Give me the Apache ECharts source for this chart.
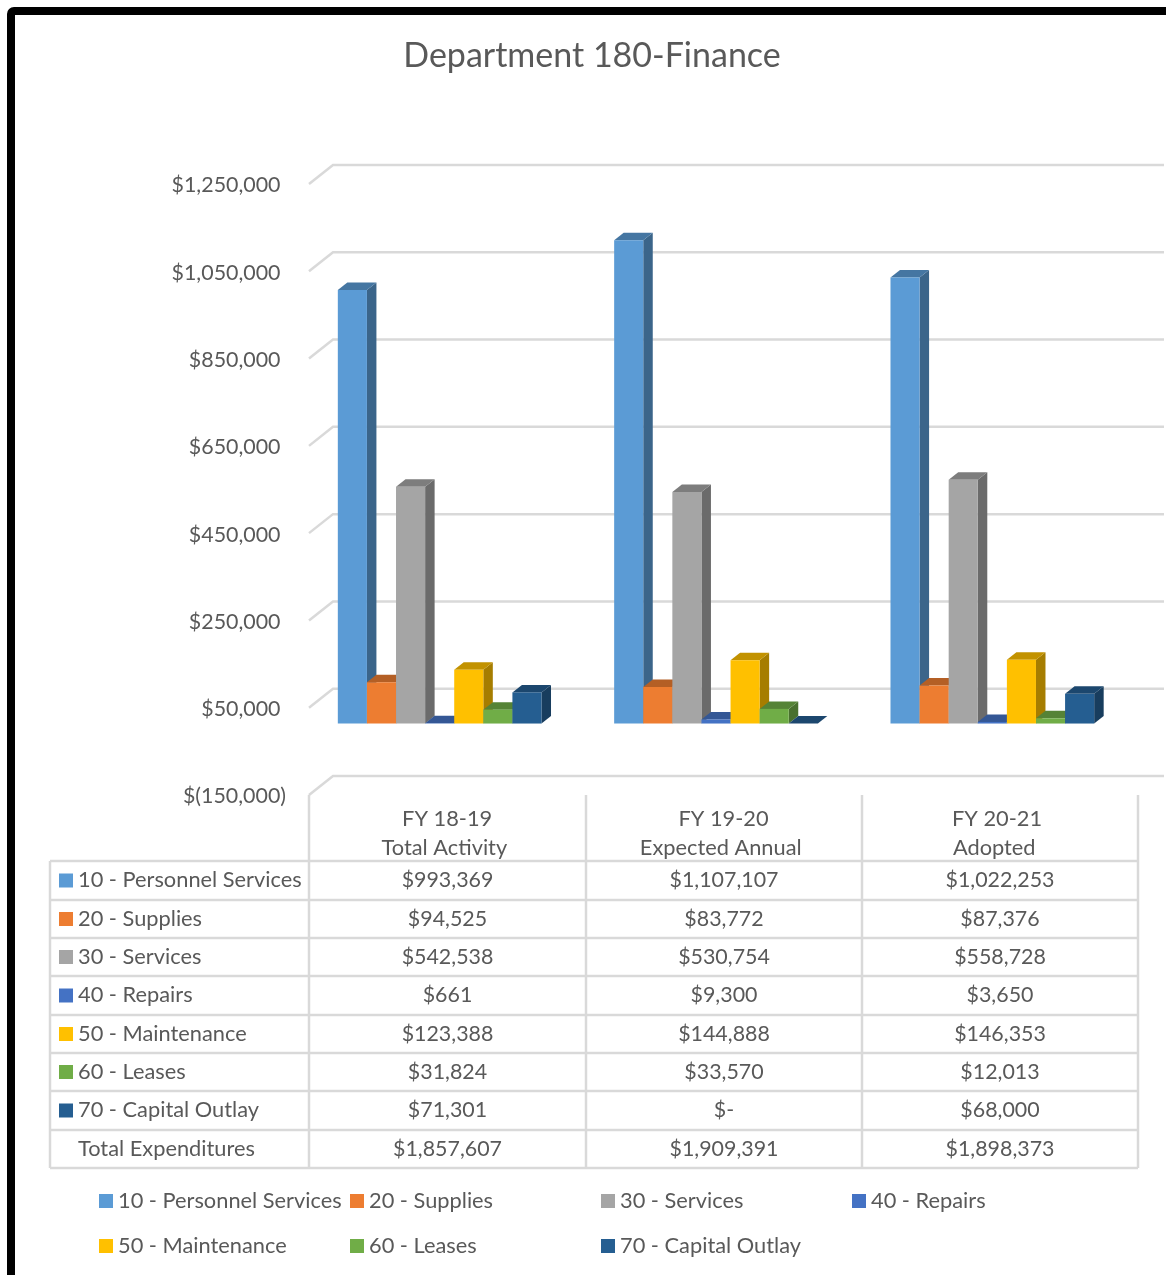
<!DOCTYPE html>
<html>
<head>
<meta charset="utf-8">
<title>Department 180-Finance</title>
<script src="https://cdn.jsdelivr.net/npm/echarts@6/dist/echarts.min.js"></script>
<style>
    html, body { margin: 0; padding: 0; background: #fff; }
    #chart { width: 1166px; height: 1275px; }
</style>
</head>
<body>
<div id="chart"></div>
<script>
var categories = ['FY 18-19\nTotal Activity ', 'FY 19-20\nExpected Annual ', 'FY 20-21 \nAdopted  '];
var seriesNames = ['10 - Personnel Services', '20 - Supplies', '30 - Services', '40 - Repairs',
    '50 - Maintenance', '60 - Leases', '70 - Capital Outlay'];
var colors = ['#5B9BD5', '#ED7D31', '#A5A5A5', '#4472C4', '#FFC000', '#70AD47', '#255E91'];

var personnel = [993369, 1107107, 1022253];
var supplies = [94525, 83772, 87376];
var services = [542538, 530754, 558728];
var repairs = [661, 9300, 3650];
var maintenance = [123388, 144888, 146353];
var leases = [31824, 33570, 12013];
var capital = [71301, 0, 68000];
var totals = [1857607, 1909391, 1898373];
var seriesValues = [personnel, supplies, services, repairs, maintenance, leases, capital];

var yTicks = [-150000, 50000, 250000, 450000, 650000, 850000, 1050000, 1250000];

var FONT = 'Lato';
var TEXT = '#595959';
var LINE = '#D9D9D9';
var SIZE = 21.8;
var NUM_SIZE = 21.4;

// the floor and walls run back this far, the bars sit part way in
var wallDx = 24, wallDy = -19;
var barDx = 9.5, barDy = -7.5;
var barLift = -6, barShift = -7.5, barRatio = 0.1053;

function shade(hex, k) {
    var n = parseInt(hex.slice(1), 16);
    var r = Math.round((n >> 16 & 255) * k);
    var g = Math.round((n >> 8 & 255) * k);
    var b = Math.round((n & 255) * k);
    return 'rgb(' + r + ',' + g + ',' + b + ')';
}

function money(v) {
    if (v === 0) return '$-';
    return '$' + v.toLocaleString('en-US');
}

function renderGridLine(params, api) {
    var p = api.coord([0, api.value(1)]);
    var left = params.coordSys.x;
    var right = params.coordSys.x + params.coordSys.width + 26;
    return {
        type: 'polyline',
        shape: { points: [[left, p[1]], [left + wallDx, p[1] + wallDy], [right, p[1] + wallDy]] },
        style: { stroke: LINE, lineWidth: 2.5, fill: null },
        silent: true
    };
}

function renderBar(seriesIndex) {
    return function (params, api) {
        var cat = api.value(0);
        var base = api.coord([cat, 0]);
        var top = api.coord([cat, api.value(1)]);
        var w = api.size([1, 0])[0] * barRatio;
        var x0 = base[0] - w * 3.5 + barShift + seriesIndex * w;
        var x1 = x0 + w;
        var y0 = base[1] + barLift;
        var y1 = top[1] + barLift;
        var c = colors[seriesIndex];
        return {
            type: 'group',
            children: [
                { type: 'polygon', shape: { points: [[x1, y0], [x1 + barDx, y0 + barDy], [x1 + barDx, y1 + barDy], [x1, y1]] },
                    style: { fill: shade(c, 0.65) } },
                { type: 'polygon', shape: { points: [[x0, y1], [x1, y1], [x1 + barDx, y1 + barDy], [x0 + barDx, y1 + barDy]] },
                    style: { fill: shade(c, 0.76) } },
                { type: 'rect', shape: { x: x0, y: y1, width: w, height: y0 - y1 }, style: { fill: c } }
            ]
        };
    };
}

function tableGraphics() {
    var rowY = [861, 900, 938, 976, 1015, 1053, 1091, 1130, 1168];
    var colX = [309, 586, 862, 1138];
    var left = 50;
    var out = [];

    // black frame, only top and left fall inside the window
    out.push({ type: 'rect', shape: { x: 11, y: 11, width: 1400, height: 1500, r: 3 },
        style: { fill: null, stroke: '#000', lineWidth: 8 }, z: 10 });

    function line(x1, y1, x2, y2) {
        out.push({ type: 'line', shape: { x1: x1, y1: y1, x2: x2, y2: y2 },
            style: { stroke: LINE, lineWidth: 2.5 }, z: 1 });
    }
    function text(str, x, y, align, size) {
        out.push({ type: 'text', x: x, y: y, z: 2,
            style: { text: str, fill: TEXT, font: size + 'px ' + FONT, textAlign: align, textVerticalAlign: 'middle' } });
    }

    rowY.forEach(function (y) { line(left, y, colX[3], y); });
    colX.forEach(function (x) { line(x, 795, x, rowY[8]); });
    line(left, rowY[0], left, rowY[8]);

    var rows = seriesValues.concat([totals]);
    rows.forEach(function (vals, r) {
        var y = (rowY[r] + rowY[r + 1]) / 2;
        if (r < seriesNames.length) {
            out.push({ type: 'rect', shape: { x: 59, y: y - 7, width: 14, height: 14 },
                style: { fill: colors[r] }, z: 2 });
            text(seriesNames[r], 78, y - 0.5, 'left', SIZE);
        } else {
            text('Total Expenditures', 78, y, 'left', SIZE);
        }
        vals.forEach(function (v, c) {
            text(money(v), (colX[c] + colX[c + 1]) / 2, y, 'center', NUM_SIZE);
        });
    });
    return out;
}

var chart = echarts.init(document.getElementById('chart'), null, { renderer: 'canvas' });

var legendCols = [99, 350, 601, 852];
var legendRows = [1190, 1235];

var series = [{
    name: 'walls',
    type: 'custom',
    renderItem: renderGridLine,
    encode: { x: 0, y: 1 },
    data: yTicks.map(function (v) { return [0, v]; }),
    z: 1,
    silent: true
}];
seriesNames.forEach(function (name, i) {
    series.push({
        name: name,
        type: 'custom',
        renderItem: renderBar(i),
        encode: { x: 0, y: 1 },
        itemStyle: { color: colors[i] },
        data: seriesValues[i].map(function (v, c) { return [c, v]; }),
        z: 2 + i
    });
});

chart.setOption({
    animation: false,
    backgroundColor: '#fff',
    title: {
        text: 'Department 180-Finance',
        left: 587,
        top: 34,
        textAlign: 'center',
        textStyle: { color: TEXT, fontFamily: FONT, fontSize: 34, fontWeight: 'normal' }
    },
    legend: seriesNames.map(function (name, i) {
        return {
            data: [name],
            left: legendCols[i % 4],
            top: legendRows[Math.floor(i / 4)],
            padding: 0,
            itemWidth: 14,
            itemHeight: 14,
            itemGap: 0,
            icon: 'rect',
            selectedMode: false,
            textStyle: { color: TEXT, fontFamily: FONT, fontSize: SIZE }
        };
    }),
    grid: { left: 309, top: 184, width: 829, height: 611 },
    xAxis: {
        type: 'category',
        data: categories,
        axisLine: { show: false },
        axisTick: { show: false },
        splitLine: { show: false },
        axisLabel: { color: TEXT, fontFamily: FONT, fontSize: SIZE, lineHeight: 29, margin: 9, interval: 0 }
    },
    yAxis: {
        type: 'value',
        min: -150000,
        max: 1250000,
        axisLine: { show: false },
        axisTick: { show: false },
        splitLine: { show: false },
        axisLabel: {
            customValues: yTicks,
            color: TEXT,
            fontFamily: FONT,
            fontSize: NUM_SIZE,
            margin: 23,
            verticalAlign: 'top',
            lineHeight: 3,
            formatter: function (v) {
                if (v < 0) return '$(' + (-v).toLocaleString('en-US') + ')';
                return '$' + v.toLocaleString('en-US') + ' ';
            }
        }
    },
    graphic: tableGraphics(),
    series: series
});
</script>
</body>
</html>
